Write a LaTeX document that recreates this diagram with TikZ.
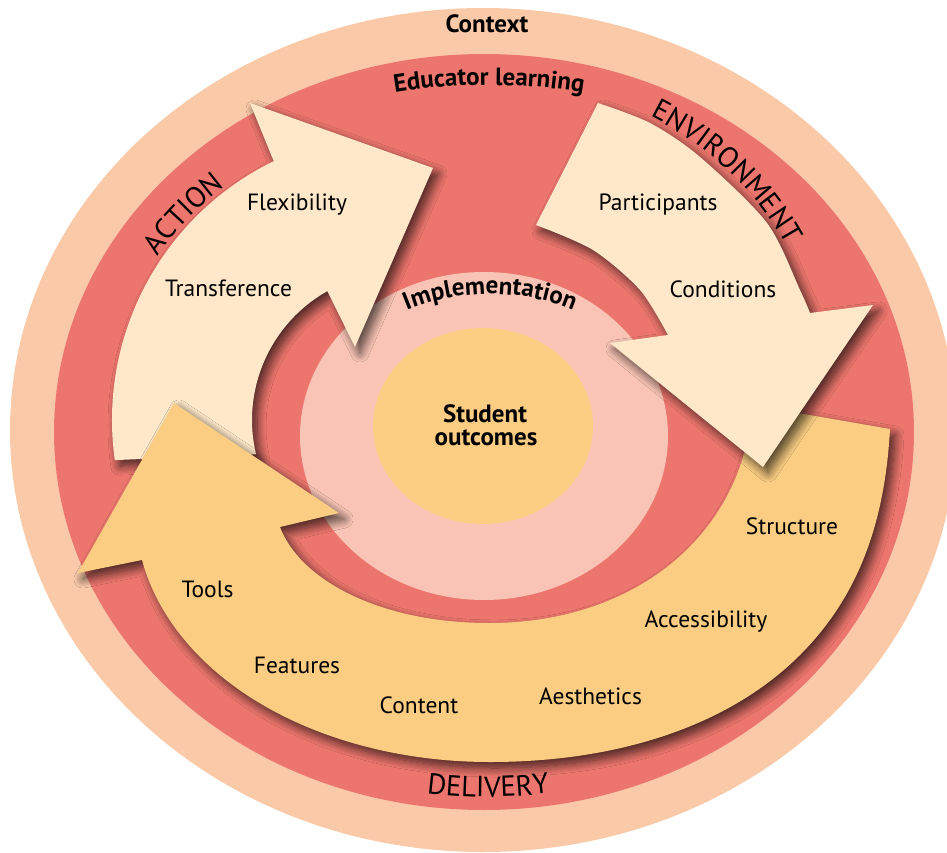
\documentclass[tikz,border=0pt]{standalone}
\usepackage{fontspec}
\setmainfont{PT Sans}
\usetikzlibrary{decorations.text,shadows.blur}
\definecolor{ctxpeach}{RGB}{250,202,168}
\definecolor{edured}{RGB}{236,118,109}
\definecolor{implpink}{RGB}{249,196,181}
\definecolor{goldfill}{RGB}{250,205,130}
\definecolor{creamfill}{RGB}{254,232,201}
\newcommand\fLab{\fontsize{23.5}{27}\selectfont}
\newcommand\fBold{\fontsize{25}{29}\selectfont\bfseries}
\newcommand\fCaps{\fontsize{29}{33}\selectfont}
\begin{document}
\begin{tikzpicture}[x=1pt,y=-1pt,
  lab/.style={font=\fLab, anchor=base, inner sep=0pt},
  ttl/.style={font=\fBold, anchor=base, inner sep=0pt},
  arrowshade/.style={blur shadow={shadow xshift=5pt, shadow yshift=-6pt,
      shadow blur radius=9pt, shadow blur steps=12, shadow opacity=70}},
]
\useasboundingbox (0,0) rectangle (947,853);
\clip (0,0) rectangle (947,853);
% rings
\fill[ctxpeach] (483,430) ellipse [x radius=473, y radius=422];
\fill[edured] (484,432) ellipse [x radius=430, y radius=378];
\fill[implpink] (484,436) ellipse [x radius=184, y radius=164];
\fill[goldfill] (483,426) ellipse [x radius=110, y radius=98];
% ACTION arrow
\fill[creamfill, arrowshade] (114.8,460.1) arc[start angle=172, end angle=244, radius=288]
  -- (250,103) -- (433,168) -- (355,347) -- (327.35,291.1)
  arc[start angle=240.6, end angle=166.6, radius=148] -- cycle;
% DELIVERY arrow
\fill[goldfill, arrowshade] (174,403) -- (78,573) -- (142,560)
  .. controls (175,680) and (320,762) .. (490,762)
  .. controls (620,762) and (730,725) .. (800,655)
  .. controls (860,595) and (885,520) .. (890,429)
  -- (752,405)
  .. controls (745,530) and (640,623) .. (489,623)
  .. controls (380,623) and (300,580) .. (280,527)
  -- (339,513) -- cycle;
% ENVIRONMENT arrow
\fill[creamfill, arrowshade] (598,103)
  -- plot[smooth] coordinates {(598,103) (650,123) (700,157) (767,223) (800,290) (810,313)}
  -- (873,305) -- (763,467) -- (610,343) -- (668,335)
  -- plot[smooth] coordinates {(668,335) (640,290) (593,250) (536,225)} -- cycle;
% titles
\node[ttl] (ctx) at (487,33) {Context};
\path[decorate, decoration={text along path, text={|\fBold|Educator learning}, text align=center}]
  (230.9,148.1) arc[start angle=235, end angle=305, x radius=450, y radius=349];
\path[decorate, decoration={text along path, text={|\fBold|Implementation}, text align=center}]
  (320.9,388.75) arc[start angle=200, end angle=340, x radius=180, y radius=144];
\node[ttl] (stu) at (485,422) {Student};
\node[ttl] (out) at (486,445) {outcomes};
% curved capitals
\path[decorate, decoration={text along path, text={|\fCaps|ACTION}, text align=center}]
  (115.2,351.1) arc[start angle=194, end angle=254, radius=293];
\path[decorate, decoration={text along path, text={|\fCaps|ENVIRONMENT}, text align=center}]
  (600,95) .. controls (705,130) and (778,205) .. (808,295);
\path[decorate, decoration={text along path, text={|\fCaps|DELIVERY}, text align=center}]
  (344.4,775) arc[start angle=110, end angle=70, x radius=420, y radius=365];
% labels
\node[lab] (flex) at (297,211) {Flexibility};
\node[lab] (trans) at (228.5,296) {Transference};
\node[lab] (part) at (658,211) {Participants};
\node[lab] (cond) at (723,297) {Conditions};
\node[lab] (struc) at (792,534) {Structure};
\node[lab] (acc) at (706,627) {Accessibility};
\node[lab] (aes) at (590.5,704) {Aesthetics};
\node[lab] (cont) at (419,713) {Content};
\node[lab] (feat) at (297,673) {Features};
\node[lab] (tools) at (207.5,597) {Tools};
\end{tikzpicture}
\end{document}
